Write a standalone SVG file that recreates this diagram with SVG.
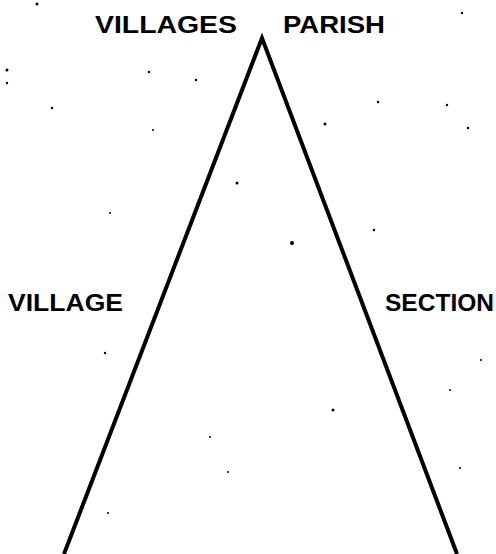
<svg xmlns="http://www.w3.org/2000/svg" width="496" height="554" viewBox="0 0 496 554">
<style>
.lbl{font-family:"Liberation Sans","DejaVu Sans",sans-serif;font-weight:bold;font-size:24px;fill:#000}
.leg{stroke:#000;stroke-width:4;fill:none;stroke-linecap:butt;stroke-linejoin:miter}
.dot{fill:#000}
</style>
<rect width="496" height="554" fill="#fff"/>
<g id="connectors">
<path class="leg" d="M64,554 L262,38 L457,554"/>
</g>
<g id="villages"><text class="lbl" x="95" y="33" textLength="142" lengthAdjust="spacingAndGlyphs">VILLAGES</text></g>
<g id="parish"><text class="lbl" x="283" y="33" textLength="102" lengthAdjust="spacingAndGlyphs">PARISH</text></g>
<g id="village"><text class="lbl" x="8" y="311" textLength="115" lengthAdjust="spacingAndGlyphs">VILLAGE</text></g>
<g id="section"><text class="lbl" x="385" y="311" textLength="109" lengthAdjust="spacingAndGlyphs">SECTION</text></g>
<g id="specks">
<circle class="dot" cx="37" cy="4" r="1.5"/>
<circle class="dot" cx="7" cy="70" r="1.5"/>
<circle class="dot" cx="7" cy="83" r="1.2"/>
<circle class="dot" cx="52" cy="108" r="1.2"/>
<circle class="dot" cx="149" cy="72" r="1.2"/>
<circle class="dot" cx="196" cy="80" r="1.2"/>
<circle class="dot" cx="153" cy="130" r="1"/>
<circle class="dot" cx="237" cy="183" r="1.5"/>
<circle class="dot" cx="292" cy="243" r="2"/>
<circle class="dot" cx="325" cy="124" r="1.5"/>
<circle class="dot" cx="378" cy="102" r="1.2"/>
<circle class="dot" cx="447" cy="105" r="1.2"/>
<circle class="dot" cx="468" cy="128" r="1.2"/>
<circle class="dot" cx="374" cy="230" r="1.2"/>
<circle class="dot" cx="110" cy="213" r="1"/>
<circle class="dot" cx="105" cy="353" r="1.2"/>
<circle class="dot" cx="333" cy="410" r="1.5"/>
<circle class="dot" cx="210" cy="437" r="1"/>
<circle class="dot" cx="108" cy="513" r="1"/>
<circle class="dot" cx="228" cy="472" r="1"/>
<circle class="dot" cx="450" cy="390" r="1"/>
<circle class="dot" cx="481" cy="360" r="1"/>
<circle class="dot" cx="462" cy="13" r="1.2"/>
<circle class="dot" cx="460" cy="468" r="1"/>
</g>
</svg>
